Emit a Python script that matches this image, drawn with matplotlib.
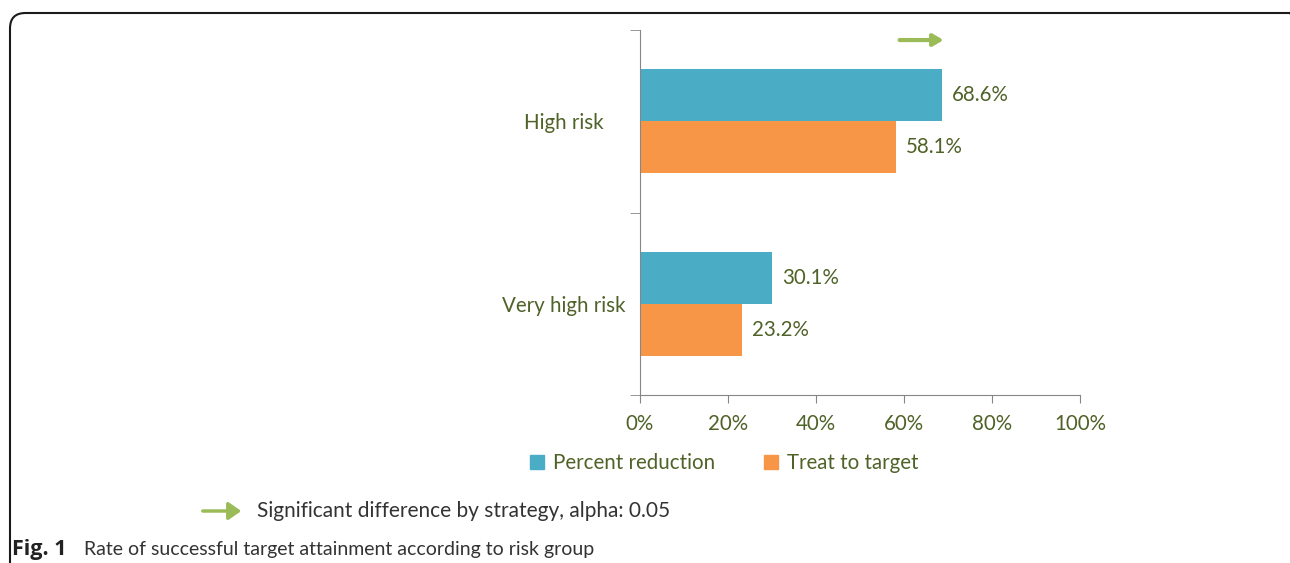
import matplotlib
matplotlib.use("Agg")
import matplotlib.pyplot as plt
from matplotlib.patches import FancyBboxPatch, FancyArrowPatch, Patch
import numpy as np

plt.rcParams['font.family'] = ['Lato', 'DejaVu Sans']

# data
groups = ["Very high risk", "High risk"]
percent_reduction = [30.1, 68.6]
treat_to_target = [23.2, 58.1]
series_names = ["Percent reduction", "Treat to target"]
xticks = [0, 20, 40, 60, 80, 100]
sig_group = "High risk"   # arrow marks significant difference

blue = "#4BACC6"
orange = "#F79646"
txt = "#4F6228"
green = "#9BBB59"
spine = "#868686"
fs = 14.8

fig = plt.figure(figsize=(12.9, 5.63), dpi=100)
ax = fig.add_axes([640/1290, 1-395/563, 440/1290, 365/563])

pos = np.arange(len(groups))
h = 0.285
b1 = ax.barh(pos + h/2, percent_reduction, height=h, color=blue)
b2 = ax.barh(pos - h/2, treat_to_target, height=h, color=orange)
for bars, vals in [(b1, percent_reduction), (b2, treat_to_target)]:
    for b, v in zip(bars, vals):
        ax.text(v + 2.3, b.get_y() + b.get_height()/2, f"{v:.1f}%",
                va="center", ha="left", color=txt, fontsize=fs)

ax.set_xlim(0, 100)
ax.set_ylim(-0.5, len(groups) - 0.5)
ax.set_xticks(xticks)
ax.set_xticklabels([f"{t}%" for t in xticks], color=txt, fontsize=fs)
ax.tick_params(axis="x", length=6, color=spine, pad=8)

ax.set_yticks(pos)
ax.set_yticklabels(groups, color=txt, fontsize=fs, ha="center")
ax.tick_params(axis="y", which="major", length=0, pad=55)
ax.set_yticks(np.arange(-0.5, len(groups)), minor=True)
ax.tick_params(axis="y", which="minor", length=7, color=spine)

for s in ["top", "right"]:
    ax.spines[s].set_visible(False)
for s in ["left", "bottom"]:
    ax.spines[s].set_color(spine)

# significance arrow above high risk bars
gi = groups.index(sig_group)
ax.annotate("", xy=(percent_reduction[gi] + 0.4, gi + 0.445),
            xytext=(59, gi + 0.445),
            arrowprops=dict(arrowstyle="-|>,head_length=0.6,head_width=0.35",
                            color=green, lw=3, shrinkA=0, shrinkB=0))

handles = [Patch(color=blue), Patch(color=orange)]
fig.legend(handles, series_names, loc="center", bbox_to_anchor=(724/1290, 1-463/563),
           ncol=2, frameon=False, fontsize=fs, handlelength=0.7, handleheight=0.7,
           handletextpad=0.4, columnspacing=2.4, labelcolor=txt)

# footnote
fig.add_artist(FancyArrowPatch((200/1290, 1-511/563), (244/1290, 1-511/563),
                               transform=fig.transFigure,
                               arrowstyle="-|>,head_length=5,head_width=3.5",
                               color=green, lw=2.5, mutation_scale=1.5))
fig.text(257/1290, 1-511/563, "Significant difference by strategy, alpha: 0.05",
         va="center", ha="left", fontsize=15, color="#333333")

fig.text(12/1290, 1-549/563, "Fig. 1", fontweight="bold", fontsize=15.5,
         family=["Open Sans", "DejaVu Sans"], va="center", ha="left", color="#222222")
fig.text(84/1290, 1-549/563, "Rate of successful target attainment according to risk group",
         fontsize=14, va="center", ha="left", color="#333333")

# rounded frame
fig.add_artist(FancyBboxPatch((10/1290, -0.2), 1295/1290, 1 - 13/563 + 0.2,
                              boxstyle="round,pad=0,rounding_size=0.012",
                              transform=fig.transFigure, fill=False,
                              edgecolor="#1a1a1a", lw=1.5, mutation_aspect=1290/563))

fig.savefig("out.png", dpi=100)
